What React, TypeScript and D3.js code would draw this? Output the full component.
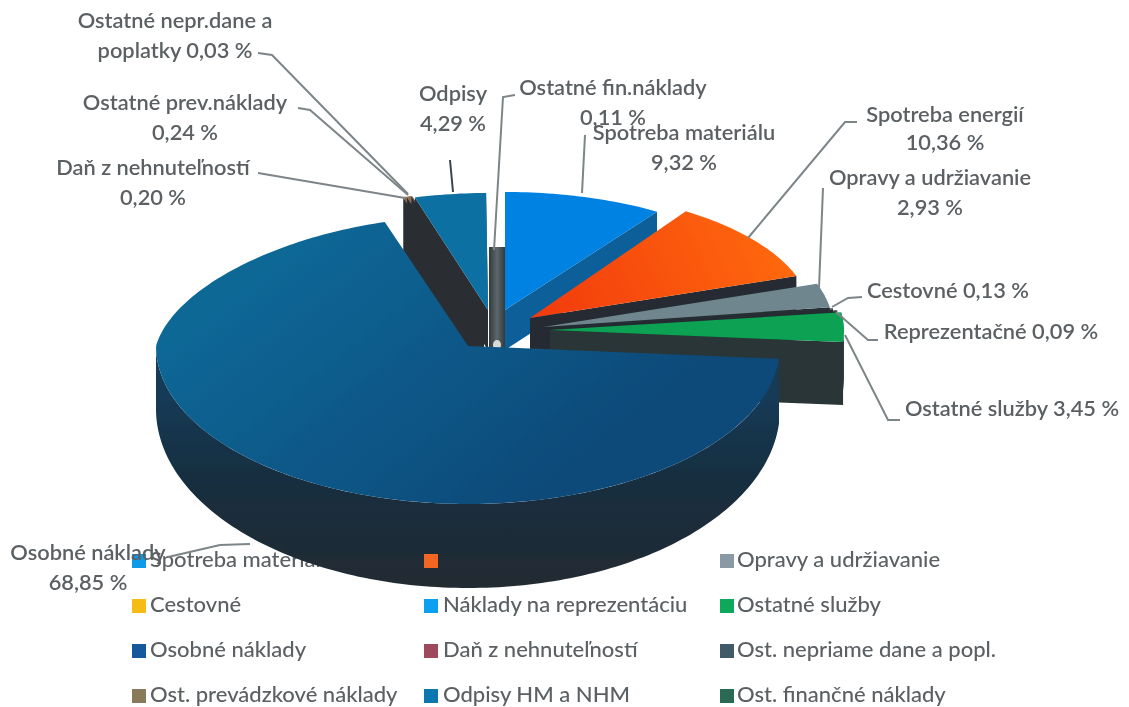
import React from "react";
import * as d3 from "d3";

const W = 1129, H = 707;

// ---- data (order clockwise from 12 o'clock) ----
const sliceNames = ["Spotreba materiálu","Spotreba energií","Opravy a udržiavanie","Cestovné","Reprezentačné","Ostatné služby","Osobné náklady","Daň z nehnuteľností","Ostatné prev.náklady","Ostatné nepr.dane a poplatky","Odpisy","Ostatné fin.náklady"];
const sliceValues = [9.32,10.36,2.93,0.13,0.09,3.45,68.85,0.20,0.24,0.03,4.29,0.11];
const legendNames = ["Spotreba materiálu","Spotreba energií","Opravy a udržiavanie","Cestovné","Náklady na reprezentáciu","Ostatné služby","Osobné náklady","Daň z nehnuteľností","Ost. nepriame dane a popl.","Ost. prevádzkové náklady","Odpisy HM a NHM","Ost. finančné náklady"];

// ---- styles ----
const legendColors = ["#0a9be8","#f26522","#8a9aa5","#f5bc14","#0aa0f0","#0aa85a","#14599c","#9e4a5c","#3f5a68","#8a7a5c","#0878b0","#2c6a55"];
const topColors = ["#0482e2","url(#gEnergy)","#6f868f","#2a3235","#2a3235","#07a252","url(#gMain)","#8a6a50","#8f6e52","#6a5a50","#0a70a2","#7a8488"];
const wallColors = ["#0a5f9a","#252c31","#252c31","#252c31","#252c31","#2a3537","url(#gWall)","#2c2f33","#2c2f33","#2c2f33","#2c2f33","#3a4347"];

// ---- exploded, perspective placement of every wedge: apex, radius, back/front squash, extrusion ----
const placement = [
  { x: 505, y: 310, r: 275, back: 118, front: 118, depth: 40, narrow: 1 },
  { x: 530, y: 318, r: 282, back: 128, front: 128, depth: 40, narrow: 1 },
  { x: 543, y: 327, r: 290, back: 132, front: 132, depth: 30, narrow: 1 },
  { x: 546, y: 328, r: 290, back: 132, front: 132, depth: 10, narrow: 1 },
  { x: 548, y: 329, r: 292, back: 132, front: 132, depth: 10, narrow: 1 },
  { x: 550, y: 330, r: 294, back: 130, front: 150, depth: 63, narrow: 1 },
  { x: 468, y: 346, r: 312, back: 130, front: 158, depth: 84, narrow: 0.88 },
  { x: 484, y: 310, r: 268, back: 118, front: 118, depth: 60, narrow: 1 },
  { x: 484, y: 310, r: 266, back: 118, front: 118, depth: 40, narrow: 1 },
  { x: 484, y: 310, r: 264, back: 118, front: 118, depth: 40, narrow: 1 },
  { x: 488, y: 310, r: 268, back: 117, front: 117, depth: 40, narrow: 1 },
  { x: 497, y: 345, r: 0, back: 0, front: 0, depth: 0, narrow: 1 },
];
const paintOrder = [0, 7, 8, 9, 10, 1, 2, 3, 4, 5, 6];

const pieGen = d3.pie<number>().sort(null).value((d) => d);
const arcs = pieGen(sliceValues);
const lineGen = d3.line<[number, number]>();

function proj(i: number, t: number): [number, number] {
  const p = placement[i];
  const c = Math.cos(t);
  const sx = p.r * Math.sin(t) * (c > 0 ? 1 - (1 - p.narrow) * c : 1);
  return [p.x + sx, p.y - c * (c >= 0 ? p.back : p.front)];
}
function rim(i: number, a: number, b: number): [number, number][] {
  const n = Math.max(2, Math.ceil(Math.abs(b - a) / 0.02));
  return d3.range(n + 1).map((k) => proj(i, a + ((b - a) * k) / n));
}
const down = (pts: [number, number][], d: number): [number, number][] => pts.map(([x, y]) => [x, y + d]);

function topPath(i: number) {
  const p = placement[i];
  return lineGen([[p.x, p.y], ...rim(i, arcs[i].startAngle, arcs[i].endAngle)]) + "Z";
}
function edgeWall(i: number, t: number) {
  const p = placement[i];
  const q: [number, number][] = [[p.x, p.y], proj(i, t)];
  return lineGen([...q, ...down(q, p.depth).reverse()]) + "Z";
}
function rimWall(i: number) {
  const p = placement[i];
  const a = Math.max(arcs[i].startAngle, Math.PI / 2);
  const b = Math.min(arcs[i].endAngle, (Math.PI * 3) / 2);
  if (b <= a) return null;
  const n = Math.ceil((b - a) / 0.02);
  const ts = d3.range(n + 1).map((k) => a + ((b - a) * k) / n);
  const topPts = ts.map((t) => proj(i, t));
  // the extrusion foreshortens toward the sides of the perspective view
  const botPts = ts.map((t) => {
    const [x, y] = proj(i, t);
    return [x, y + p.depth * (0.75 + 0.25 * Math.abs(Math.cos(t)))] as [number, number];
  });
  return lineGen([...topPts, ...botPts.reverse()]) + "Z";
}

// ---- labels and leaders ----
const labels: { x: number; lines: [string, number][] }[] = [
  { x: 175, lines: [["Ostatné nepr.dane a", 28], ["poplatky 0,03 %", 58]] },
  { x: 185, lines: [["Ostatné prev.náklady", 110], ["0,24 %", 140]] },
  { x: 153, lines: [["Daň z nehnuteľností", 175], ["0,20 %", 205]] },
  { x: 453, lines: [["Odpisy", 101], ["4,29 %", 131]] },
  { x: 613, lines: [["Ostatné fin.náklady", 95], ["0,11 %", 125]] },
  { x: 684, lines: [["Spotreba materiálu", 140], ["9,32 %", 170]] },
  { x: 945, lines: [["Spotreba energií", 122], ["10,36 %", 150]] },
  { x: 930, lines: [["Opravy a udržiavanie", 185], ["2,93 %", 215]] },
  { x: 948, lines: [["Cestovné 0,13 %", 298]] },
  { x: 991, lines: [["Reprezentačné 0,09 %", 339]] },
  { x: 1012, lines: [["Ostatné služby 3,45 %", 416]] },
  { x: 88, lines: [["Osobné náklady", 560], ["68,85 %", 590]] },
];
const leaders: [number, number][][] = [
  [[258, 53], [272, 55], [408, 194]],
  [[298, 108], [310, 110], [408, 195]],
  [[258, 173], [405, 198]],
  [[450, 160], [453, 192]],
  [[515, 95], [503, 97], [494, 250]],
  [[585, 135], [582, 193]],
  [[857, 122], [845, 122], [748, 238]],
  [[823, 188], [819, 288]],
  [[862, 297], [848, 298], [832, 307]],
  [[878, 340], [868, 340], [836, 312]],
  [[900, 420], [888, 420], [845, 335]],
  [[168, 557], [220, 545], [250, 544]],
];

const legendRows = [567, 612, 657, 702];
const legendCols = [150, 443, 737];
const font = "Lato, 'Open Sans', sans-serif";

export default function App() {
  const finX0 = placement[10].x + 1;
  const finX1 = placement[0].x;
  return (
    <svg width={W} height={H} style={{ position: "absolute", left: 0, top: 0, background: "#fff" }}>
      <defs>
        <filter id="scan" x="-2%" y="-2%" width="104%" height="104%"><feGaussianBlur stdDeviation="0.5" /></filter>
        <linearGradient id="gMain" gradientUnits="userSpaceOnUse" x1="300" y1="230" x2="520" y2="510">
          <stop offset="0" stopColor="#0c6896" /><stop offset="0.55" stopColor="#0b5787" /><stop offset="1" stopColor="#0a4a79" />
        </linearGradient>
        <linearGradient id="gWall" gradientUnits="userSpaceOnUse" x1="0" y1="400" x2="0" y2="590">
          <stop offset="0" stopColor="#123a56" /><stop offset="0.45" stopColor="#182d3e" /><stop offset="1" stopColor="#232c32" />
        </linearGradient>
        <linearGradient id="gEnergy" gradientUnits="userSpaceOnUse" x1="540" y1="330" x2="780" y2="220">
          <stop offset="0" stopColor="#f23a10" /><stop offset="1" stopColor="#ff6a08" />
        </linearGradient>
        <linearGradient id="gFin" x1="0" x2="1" y1="0" y2="0">
          <stop offset="0" stopColor="#33393c" /><stop offset="0.5" stopColor="#5c686c" /><stop offset="1" stopColor="#33393c" />
        </linearGradient>
      </defs>
      <g filter="url(#scan)">
        <g fontFamily={font} fontSize={22} fontWeight={500} fill="#5b6064">
          {legendNames.map((n, i) => (
            <text key={n} x={legendCols[i % 3]} y={legendRows[Math.floor(i / 3)]}>{n}</text>
          ))}
        </g>

        <rect x={finX0} y={placement[0].y - 63} width={finX1 - finX0} height={placement[6].y - placement[0].y + 67} fill="url(#gFin)" />
        <ellipse cx={placement[11].x} cy={placement[11].y} rx={4} ry={5} fill="#d8dcd8" />

        {paintOrder.map((i) => {
          const rw = rimWall(i);
          return (
            <g key={sliceNames[i]}>
              {rw && <path d={rw} fill={wallColors[i]} />}
              {i !== 6 && <path d={edgeWall(i, arcs[i].endAngle)} fill={wallColors[i]} />}
              {(i >= 7 && i <= 10) && <path d={edgeWall(i, arcs[i].startAngle)} fill={wallColors[i]} />}
              <path d={topPath(i)} fill={topColors[i]} stroke={i === 7 || i === 8 || i === 9 ? topColors[i] : "none"} strokeWidth={0.8} />
            </g>
          );
        })}

        <g fill="none" strokeWidth={2}>
          {leaders.map((l, i) => (
            <path key={i} d={lineGen(l) as string} stroke={i === 3 ? "#3a4448" : "#7e8588"} />
          ))}
        </g>

        {legendNames.map((n, i) => (
          <rect key={n} x={legendCols[i % 3] - (i % 3 === 0 ? 18 : i % 3 === 1 ? 19 : 17)} y={legendRows[Math.floor(i / 3)] - 13} width={14} height={14} fill={legendColors[i]} />
        ))}

        <g fontFamily={font} fontSize={21.8} fontWeight={600} fill="#5b6064" textAnchor="middle">
          {labels.map((l) =>
            l.lines.map(([t, y]) => (
              <text key={t} x={l.x} y={y}>{t}</text>
            ))
          )}
        </g>
      </g>
    </svg>
  );
}
